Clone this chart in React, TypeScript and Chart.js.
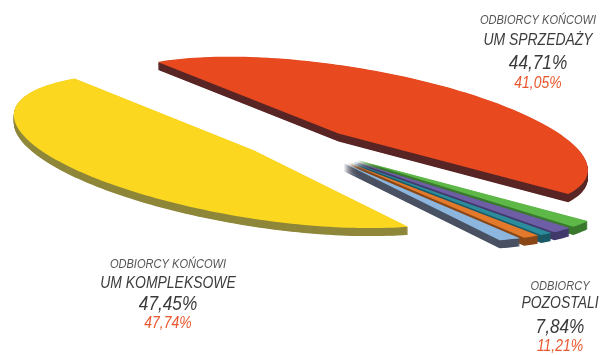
import React, { useEffect, useRef } from "react";
import { Chart, registerables } from "chart.js";
Chart.register(...registerables);

// ---- data ----
const categories = [
  "Odbiorcy końcowi UM sprzedaży",
  "Pozostali 1",
  "Pozostali 2",
  "Pozostali 3",
  "Pozostali 4",
  "Pozostali 5",
  "Odbiorcy końcowi UM kompleksowe",
];
const shares = [44.71, 2.04, 1.73, 1.02, 1.32, 1.73, 47.45];
const explode = [27.5, 25, 25, 25, 25, 25, 27.5];
const topColors = ["#e9491f", "#5db848", "#6d5ea6", "#2b8c9c", "#e2792b", "#8db6df", "#fbd720"];
const sideColors = ["#5a2626", "#3b7a2e", "#433a6c", "#1c5a66", "#8a4818", "#4a5263", "#8f873a"];

const groupTitles = [
  ["ODBIORCY KOŃCOWI", "UM SPRZEDAŻY"],
  ["ODBIORCY KOŃCOWI", "UM KOMPLEKSOWE"],
  ["ODBIORCY", "POZOSTALI"],
];
const groupSlices = [[0], [6], [1, 2, 3, 4, 5]];
const previousShares = [41.05, 47.74, 11.21];

// ---- view (3D projection of the pie plane) ----
const START_DEG = -175.1;
const RADIUS = 100;
const THICKNESS = 8;
const VIEW = { yaw: 2.1272, persp: 0.0146, m11: 21.87, m12: 243.75, m21: -65.23, m22: 41.79, dx: 2.4, dy: -33.2 };
const LABEL_POS = [
  { x: 538, y: [19.5, 39, 61, 82] },
  { x: 168, y: [263, 282, 302, 322] },
  { x: 560, y: [285, 302, 325, 345] },
];

const fmt = (v: number) => v.toFixed(2).replace(".", ",") + "%";

const pie3d = {
  id: "pie3d",
  beforeDatasetsDraw(chart: any) {
    const meta = chart.getDatasetMeta(0);
    const ctx = chart.ctx as CanvasRenderingContext2D;
    const cs = Math.cos(VIEW.yaw), sn = Math.sin(VIEW.yaw);
    const faces = meta.data.map((el: any, i: number) => {
      const p = el.getProps(["x", "y", "startAngle", "endAngle", "outerRadius"], true);
      const proj = (wx: number, wy: number) => {
        const a = cs * wx - sn * wy, b = sn * wx + cs * wy;
        const z = 1 - VIEW.persp * b;
        const X = a / z, Y = b / z;
        return { x: p.x + VIEW.dx + VIEW.m11 * X + VIEW.m12 * Y, y: p.y + VIEW.dy + VIEW.m21 * X + VIEW.m22 * Y, s: 1 / z };
      };
      const e = (el.options.offset || 0) / p.outerRadius;
      const mid = (p.startAngle + p.endAngle) / 2;
      const ax = e * Math.cos(mid), ay = e * Math.sin(mid);
      const n = Math.max(4, Math.ceil((p.endAngle - p.startAngle) / (Math.PI / 120)));
      const pts = [proj(ax, ay)];
      for (let j = 0; j <= n; j++) {
        const t = p.startAngle + ((p.endAngle - p.startAngle) * j) / n;
        pts.push(proj(ax + Math.cos(t), ay + Math.sin(t)));
      }
      return { i, pts, key: pts[0].y };
    });
    faces.sort((a: any, b: any) => a.key - b.key);
    const path = (pts: any[], d: number) => {
      ctx.beginPath();
      pts.forEach((q, j) => {
        const y = q.y + d * q.s;
        if (j === 0) ctx.moveTo(q.x, y);
        else ctx.lineTo(q.x, y);
      });
      ctx.closePath();
    };
    ctx.save();
    for (const f of faces) {
      ctx.fillStyle = sideColors[f.i];
      for (let d = THICKNESS; d >= 0.5; d -= 0.5) { path(f.pts, d); ctx.fill(); }
      ctx.fillStyle = topColors[f.i];
      path(f.pts, 0);
      ctx.fill();
    }
    ctx.restore();
    return false;
  },
};

const FONT = "'Liberation Sans', Arimo, Arial, sans-serif";
const labelsPlugin = {
  id: "pieLabels",
  afterDraw(chart: any) {
    const ctx = chart.ctx as CanvasRenderingContext2D;
    const ox = chart.chartArea.left, oy = chart.chartArea.top;
    const styles = [
      { size: 13.5, color: "#555555" },
      { size: 17, color: "#3c3c3c" },
      { size: 21, color: "#3a3a3a" },
      { size: 17, color: "#e8582e" },
    ];
    groupTitles.forEach((titles, g) => {
      const cur = groupSlices[g].reduce((s, i) => s + shares[i], 0);
      const lines = [titles[0], titles[1], fmt(cur), fmt(previousShares[g])];
      lines.forEach((txt, li) => {
        const st = styles[li];
        ctx.save();
        ctx.font = `italic ${st.size}px ${FONT}`;
        ctx.fillStyle = st.color;
        ctx.textAlign = "center";
        ctx.textBaseline = "alphabetic";
        ctx.translate(ox + LABEL_POS[g].x, oy + LABEL_POS[g].y[li] + 0.358 * st.size);
        ctx.scale(0.82, 1);
        ctx.fillText(txt, 0, 0);
        ctx.restore();
      });
    });
  },
};

export default function App() {
  const ref = useRef<HTMLCanvasElement>(null);
  useEffect(() => {
    document.body.style.margin = "0";
    const chart = new Chart(ref.current!, {
      type: "pie",
      data: {
        labels: categories,
        datasets: [{ data: shares, backgroundColor: topColors, offset: explode, borderWidth: 0 }],
      },
      options: {
        responsive: false,
        animation: false,
        radius: RADIUS,
        rotation: START_DEG + 90,
        layout: { padding: 0 },
        plugins: { legend: { display: false }, tooltip: { enabled: false } },
      } as any,
      plugins: [pie3d, labelsPlugin],
    });
    return () => chart.destroy();
  }, []);
  return (
    <div style={{ width: 600, height: 355, overflow: "hidden" }}>
      <canvas ref={ref} width={600} height={355} style={{ display: "block" }} />
    </div>
  );
}
